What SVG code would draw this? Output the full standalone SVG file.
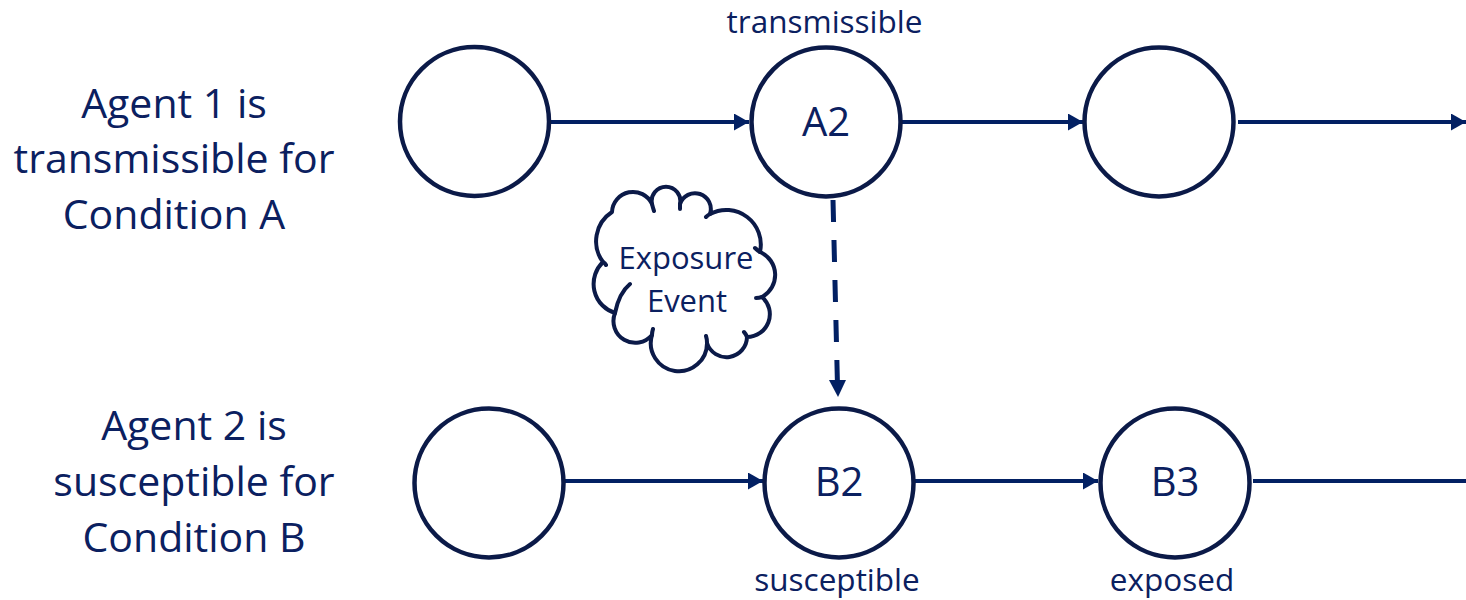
<svg xmlns="http://www.w3.org/2000/svg" width="1466" height="600" viewBox="0 0 1466 600">
  <style>
    .node { fill: #ffffff; stroke: #0b1a48; stroke-width: 4.5; }
    .lbl { font-family: "Open Sans", "Liberation Sans", sans-serif; fill: #0b2060; text-anchor: middle; }
    .big { font-size: 41px; }
    .mid { font-size: 40px; }
    .small { font-size: 31.5px; }
    .cloudtxt { font-size: 31px; }
    .edge { stroke: #022063; stroke-width: 4; fill: none; }
    .dash { stroke: #022063; stroke-width: 5; fill: none; stroke-dasharray: 22 18; }
    .cloud { fill: #ffffff; stroke: #0b1a48; stroke-width: 4; stroke-linejoin: round; }
    .hook { fill: none; stroke: #0b1a48; stroke-width: 4; stroke-linecap: round; }
  </style>
  <defs>
    <marker id="arrow" markerUnits="userSpaceOnUse" markerWidth="16" markerHeight="18" refX="15" refY="8.5" orient="auto">
      <path d="M0,0 L15,8.5 L0,17 Z" fill="#022063"/>
    </marker>
  </defs>

  <rect width="1466" height="600" fill="#ffffff"/>

  <!-- row descriptions -->
  <g id="agent1-label" class="lbl big">
    <text x="174" y="118">Agent 1 is</text>
    <text x="174" y="173">transmissible for</text>
    <text x="174" y="229">Condition A</text>
  </g>
  <g id="agent2-label" class="lbl big">
    <text x="194" y="440">Agent 2 is</text>
    <text x="194" y="496">susceptible for</text>
    <text x="194" y="552">Condition B</text>
  </g>

  <!-- connectors -->
  <g id="connectors">
    <line class="edge" x1="551" y1="122" x2="749" y2="122" marker-end="url(#arrow)"/>
    <line class="edge" x1="902" y1="122" x2="1083" y2="122" marker-end="url(#arrow)"/>
    <line class="edge" x1="1238" y1="122" x2="1466" y2="122" marker-end="url(#arrow)"/>
    <line class="edge" x1="565" y1="481" x2="763" y2="481" marker-end="url(#arrow)"/>
    <line class="edge" x1="913" y1="481" x2="1098" y2="481" marker-end="url(#arrow)"/>
    <line class="edge" x1="1253" y1="481" x2="1466" y2="481"/>
    <path class="dash" d="M833,200 L837.4,382"/>
    <path d="M829,380 L846,380 L838,397 Z" fill="#022063"/>
  </g>

  <!-- agent 1 timeline -->
  <g id="a1">
    <circle class="node" cx="474.5" cy="121.5" r="74.5"/>
  </g>
  <g id="a2">
    <circle class="node" cx="826" cy="122" r="74.5"/>
    <text class="lbl mid" x="826" y="136">A2</text>
    <text class="lbl small" x="824.5" y="33">transmissible</text>
  </g>
  <g id="a3">
    <circle class="node" cx="1159" cy="122" r="74.5"/>
  </g>

  <!-- agent 2 timeline -->
  <g id="b1">
    <circle class="node" cx="489" cy="483" r="74.5"/>
  </g>
  <g id="b2">
    <circle class="node" cx="839" cy="483" r="74.5"/>
    <text class="lbl mid" x="839" y="496">B2</text>
    <text class="lbl small" x="837" y="591">susceptible</text>
  </g>
  <g id="b3">
    <circle class="node" cx="1175" cy="483" r="74.5"/>
    <text class="lbl mid" x="1175" y="496">B3</text>
    <text class="lbl small" x="1172" y="591">exposed</text>
  </g>

  <!-- exposure event cloud -->
  <g id="exposure-event">
    <path class="cloud" d="M612,212
      A21,21 0 0 1 652,204
      A14.3,14.3 0 1 1 680,204
      A15.5,15.5 0 0 1 710,214
      A34.6,34.6 0 0 1 760,252
      A25,25 0 0 1 762,297
      A22.8,22.8 0 0 1 747,337
      A20.5,20.5 0 0 1 707,343
      A28.1,28.1 0 1 1 652,335
      A21.8,21.8 0 0 1 615,313
      A30.4,30.4 0 0 1 603,262
      A34.8,34.8 0 0 1 612,212 Z"/>
    <path class="hook" d="M652,204 q1,4 2,7 M680,204 q0,2 0,5 M710,214 q-2,1 -4,3 M760,252 q-3,-2 -5,-4 M762,297 q-3,1 -6,1 M747,337 q-1,-3 -3,-5 M707,343 q0,-4 -1,-7 M652,335 q0,-3 1,-6 M615,313 q4,-20 15,-29 M603,262 q2,1 3,3"/>
    <text class="lbl cloudtxt" x="686" y="269">Exposure</text>
    <text class="lbl cloudtxt" x="687" y="312">Event</text>
  </g>
</svg>
